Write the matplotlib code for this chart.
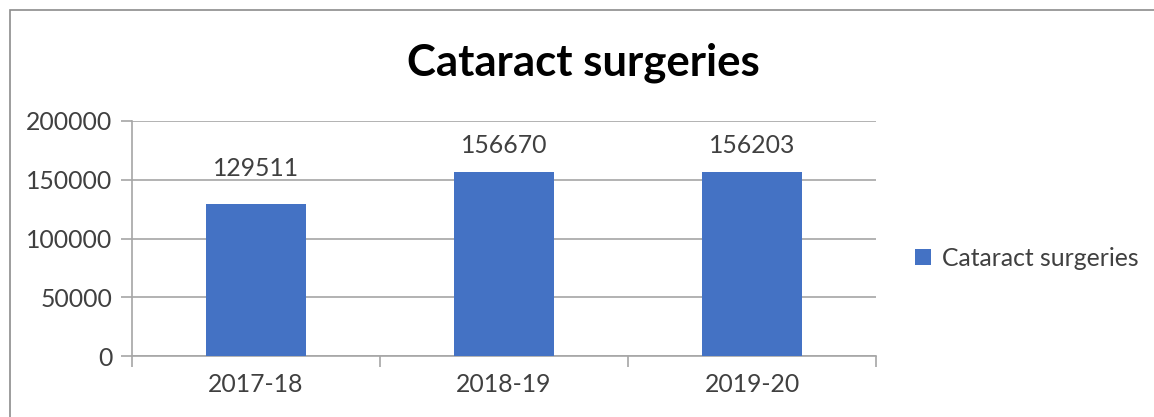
import matplotlib
matplotlib.use("Agg")
import matplotlib.pyplot as plt
from matplotlib.patches import Rectangle

categories = ["2017-18", "2018-19", "2019-20"]
values = [129511, 156670, 156203]
series_name = "Cataract surgeries"
yticks = [0, 50000, 100000, 150000, 200000]

plt.rcParams['font.family'] = ['Lato', 'DejaVu Sans']
text_color = "#404040"
grid_color = "#A6A6A6"
bar_color = "#4472C4"
fs = 17.8
label_offsets_pt = [17, 11, 11]  # styling: data label gap above each bar

fig = plt.figure(figsize=(11.54, 4.17), dpi=100)
fig.patch.set_facecolor("white")

# chart border (clipped at right/bottom as in the reference)
fig.add_artist(Rectangle((10/1154, -0.1), 1.2, 1 - 10/417 + 0.1,
                         transform=fig.transFigure, fill=False,
                         edgecolor="#8C8C8C", linewidth=1.2))

ax = fig.add_axes([132/1154, 61/417, 744/1154, 235/417])
x = list(range(len(categories)))
bars = ax.bar(x, values, width=0.4, color=bar_color, label=series_name, zorder=3)

ax.set_xlim(-0.5, len(categories) - 0.5)
ax.set_ylim(0, 200000)
ax.set_yticks(yticks)
ax.set_yticklabels([str(v) for v in yticks])
ax.yaxis.grid(True, color=grid_color, linewidth=1.2, zorder=0)
ax.set_axisbelow(True)

for s in ["top", "right"]:
    ax.spines[s].set_visible(False)
ax.spines["left"].set_color(grid_color)
ax.spines["bottom"].set_color(grid_color)
ax.spines["left"].set_linewidth(1.2)
ax.spines["bottom"].set_linewidth(1.2)

ax.set_xticks(x)
ax.set_xticklabels(categories)
ax.tick_params(axis="x", length=0, pad=12, labelsize=fs, labelcolor=text_color)
ax.set_xticks([i - 0.5 for i in range(len(categories) + 1)], minor=True)
ax.tick_params(axis="x", which="minor", length=8, width=1.2, color=grid_color)
ax.tick_params(axis="y", length=8, width=1.2, color=grid_color, pad=6,
               labelsize=fs, labelcolor=text_color)

for xi, v, off in zip(x, values, label_offsets_pt):
    ax.annotate(str(v), (xi, v), xytext=(0, off), textcoords="offset points",
                ha="center", va="bottom", fontsize=fs, color=text_color)

fig.text(583/1154, 1 - 63/417, series_name, ha="center", va="center",
         fontsize=31.5, fontweight="bold", color="black")

leg = ax.legend(loc="center left", bbox_to_anchor=(905/744 - 132/744, 0.417),
                frameon=False, fontsize=fs, handlelength=0.65, handleheight=0.65,
                handletextpad=0.45, borderaxespad=0)
for t in leg.get_texts():
    t.set_color(text_color)

fig.savefig("out.png", dpi=100, facecolor="white")
